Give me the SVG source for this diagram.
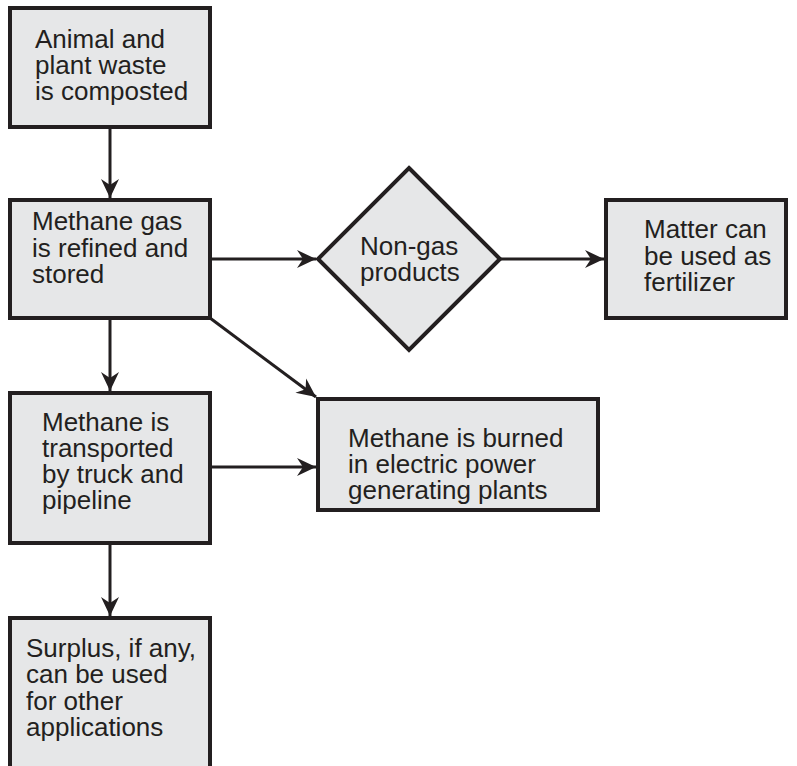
<svg xmlns="http://www.w3.org/2000/svg" width="797" height="766" viewBox="0 0 797 766">
<style>
.box{fill:#e6e7e8;stroke:#231f20;stroke-width:4}
.t{font-family:"Liberation Sans",Arial,Helvetica,sans-serif;font-size:26px;fill:#231f20}
.c{fill:none;stroke:#231f20;stroke-width:3}
</style>
<defs>
<marker id="ah" markerUnits="userSpaceOnUse" markerWidth="22" markerHeight="22" viewBox="-20 -11 22 22" refX="0" refY="0" orient="auto">
<path d="M0,0 L-19,-9 L-13,0 L-19,9 Z" fill="#231f20"/>
</marker>
</defs>
<rect width="797" height="766" fill="#ffffff"/>
<g id="connectors">
<line class="c" x1="110" y1="128" x2="110" y2="198" marker-end="url(#ah)"/>
<line class="c" x1="211" y1="259" x2="316" y2="259" marker-end="url(#ah)"/>
<line class="c" x1="501" y1="259" x2="604" y2="259" marker-end="url(#ah)"/>
<line class="c" x1="110" y1="318" x2="110" y2="391" marker-end="url(#ah)"/>
<line class="c" x1="210" y1="318" x2="316" y2="397" marker-end="url(#ah)"/>
<line class="c" x1="211" y1="467" x2="316" y2="467" marker-end="url(#ah)"/>
<line class="c" x1="110" y1="543" x2="110" y2="616" marker-end="url(#ah)"/>
</g>
<g id="n1">
<rect class="box" x="10" y="8" width="200" height="119"/>
<text class="t" x="35" y="48">Animal and<tspan x="35" dy="26">plant waste</tspan><tspan x="35" dy="26">is composted</tspan></text>
</g>
<g id="n2">
<rect class="box" x="10" y="200" width="200" height="118"/>
<text class="t" x="32" y="230">Methane gas<tspan x="32" dy="26.5">is refined and</tspan><tspan x="32" dy="26.5">stored</tspan></text>
</g>
<g id="n3">
<polygon class="box" points="409,168 500,259 409,350 318,259"/>
<text class="t" x="360" y="255">Non-gas<tspan x="360" dy="25.5">products</tspan></text>
</g>
<g id="n4">
<rect class="box" x="606" y="200" width="180" height="118"/>
<text class="t" x="644" y="238">Matter can<tspan x="644" dy="26.5">be used as</tspan><tspan x="644" dy="26.5">fertilizer</tspan></text>
</g>
<g id="n5">
<rect class="box" x="318" y="399" width="280" height="111"/>
<text class="t" x="348" y="447">Methane is burned<tspan x="348" dy="26">in electric power</tspan><tspan x="348" dy="26">generating plants</tspan></text>
</g>
<g id="n6">
<rect class="box" x="10" y="393" width="200" height="150"/>
<text class="t" x="42" y="431">Methane is<tspan x="42" dy="26">transported</tspan><tspan x="42" dy="26">by truck and</tspan><tspan x="42" dy="25.5">pipeline</tspan></text>
</g>
<g id="n7">
<rect class="box" x="10" y="618" width="200" height="170"/>
<text class="t" x="26" y="657">Surplus, if any,<tspan x="26" dy="26">can be used</tspan><tspan x="26" dy="26.5">for other</tspan><tspan x="26" dy="26.5">applications</tspan></text>
</g>
</svg>
